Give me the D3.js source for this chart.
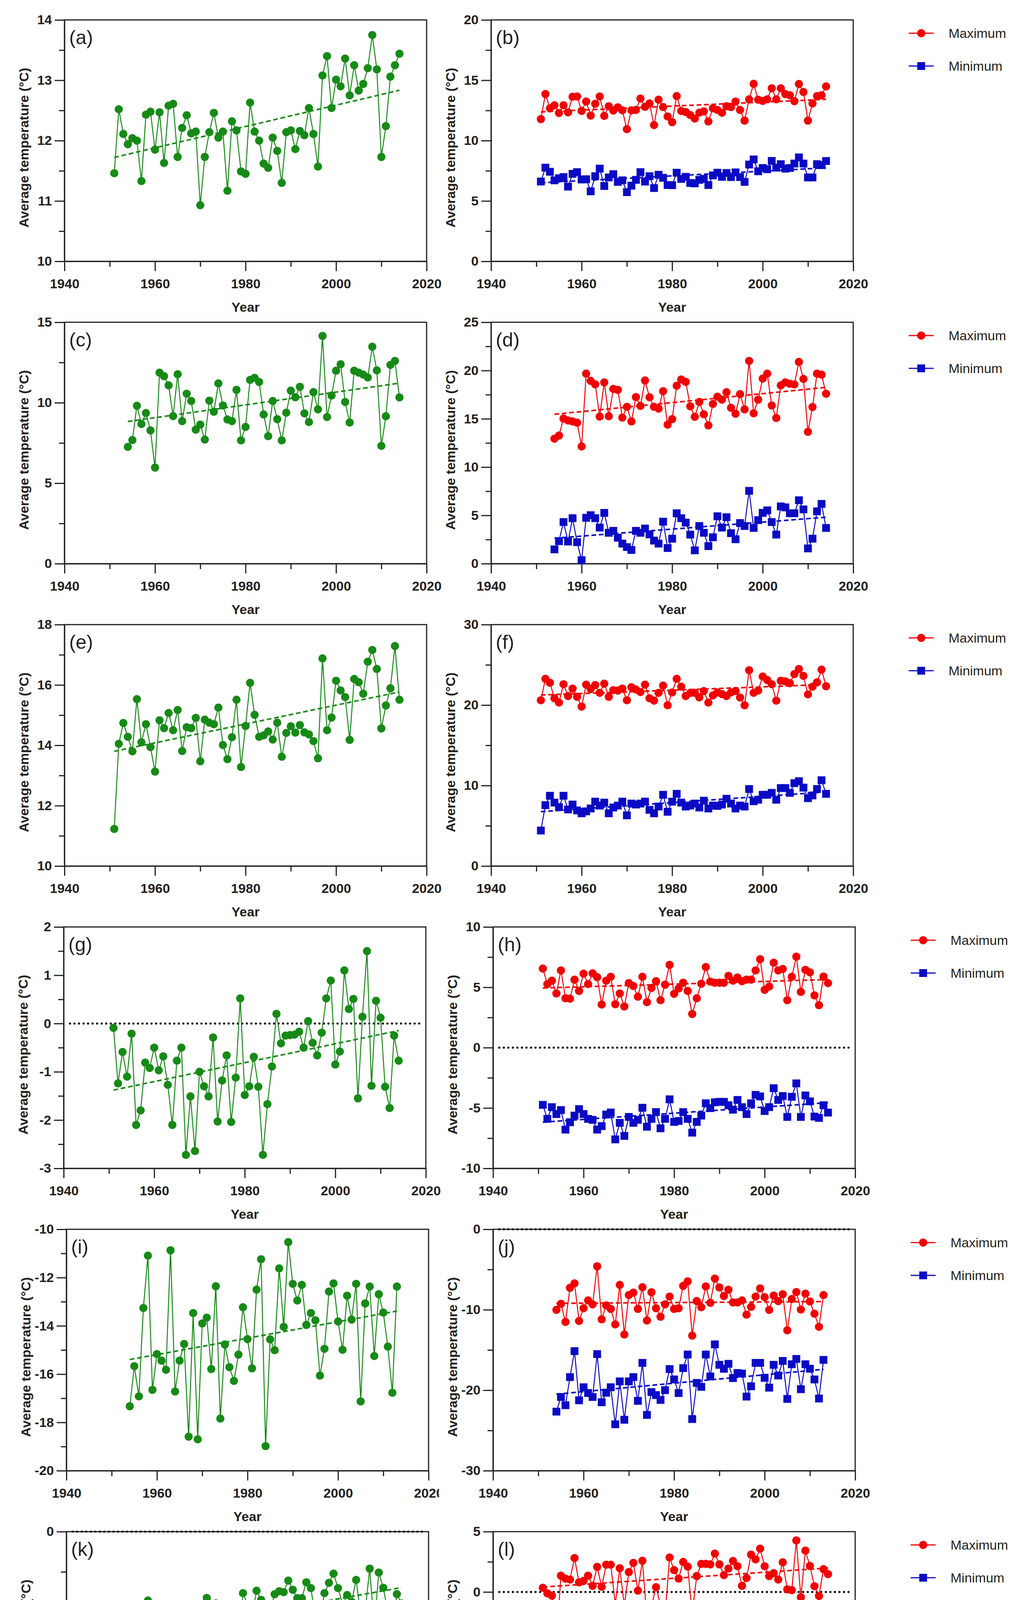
<!DOCTYPE html>
<html>
<head>
<meta charset="utf-8">
<script src="https://cdn.jsdelivr.net/npm/d3@7"></script>
<style>
    body { margin: 0; background: #fff; }
    svg { display: block; font-family: "Liberation Sans", Arial, sans-serif; }
    .axis path, .axis line { stroke: #231f20; stroke-width: 3; }
    .axis .tick text { font-family: "Liberation Sans", Arial, sans-serif; font-size: 34px; font-weight: bold; fill: #231f20; }
    .frame { fill: none; stroke: #231f20; stroke-width: 3; }
    .axis-title { font-size: 34px; font-weight: bold; fill: #231f20; }
    .panel-label { font-size: 50px; fill: #231f20; }
    .legend text { font-size: 34px; fill: #231f20; }
</style>
</head>
<body>
<svg id="chart" width="2616" height="4704"></svg>
<script>
// categories
const years51to14 = d3.range(1951, 2015);
const years54to14 = d3.range(1954, 2015);
const years54to13 = d3.range(1954, 2014);
const xTicks = [1940, 1960, 1980, 2000, 2020];
const xMinorTicks = [1950, 1970, 1990, 2010];
const legendLabels = ['Maximum', 'Minimum'];

// y tick labels per panel
const yTicksA = [10, 11, 12, 13, 14];
const yTicksB = [0, 5, 10, 15, 20];
const yTicksC = [0, 5, 10, 15];
const yTicksD = [0, 5, 10, 15, 20, 25];
const yTicksE = [10, 12, 14, 16, 18];
const yTicksF = [0, 10, 20, 30];
const yTicksG = [-3, -2, -1, 0, 1, 2];
const yTicksH = [-10, -5, 0, 5, 10];
const yTicksI = [-20, -18, -16, -14, -12, -10];
const yTicksJ = [-30, -20, -10, 0];
const yTicksK = [-15, -10, -5, 0];
const yTicksL = [-15, -10, -5, 0, 5];

// series values
const aMean = [
    11.46, 12.52, 12.11, 11.94, 12.04, 12.00, 11.33, 12.43, 12.48, 11.85,
    12.47, 11.63, 12.58, 12.61, 11.73, 12.21, 12.42, 12.12, 12.15, 10.93,
    11.73, 12.14, 12.46, 12.05, 12.15, 11.17, 12.32, 12.17, 11.49, 11.45,
    12.63, 12.15, 12.00, 11.62, 11.55, 12.05, 11.83, 11.30, 12.14, 12.17,
    11.86, 12.16, 12.09, 12.54, 12.11, 11.57, 13.08, 13.40, 12.54, 13.01,
    12.90, 13.36, 12.75, 13.25, 12.83, 12.94, 13.20, 13.75, 13.18, 11.73,
    12.24, 13.06, 13.25, 13.44];
const bMax = [
    11.78, 13.86, 12.68, 12.93, 12.29, 12.93, 12.34, 13.64, 13.66, 12.46,
    13.24, 12.08, 13.05, 13.66, 12.05, 12.85, 12.49, 12.76, 12.51, 10.95,
    12.51, 12.54, 13.49, 12.80, 13.08, 11.29, 13.39, 12.78, 12.00, 11.53,
    13.69, 12.46, 12.37, 12.12, 11.83, 12.32, 12.42, 11.59, 12.68, 12.54,
    12.31, 12.85, 12.78, 13.24, 12.54, 11.66, 13.42, 14.71, 13.39, 13.29,
    13.42, 14.34, 13.42, 14.34, 13.86, 13.76, 13.27, 14.69, 14.03, 11.66,
    13.08, 13.69, 13.76, 14.49];
const bMin = [
    6.61, 7.76, 7.42, 6.71, 6.88, 6.98, 6.19, 7.25, 7.39, 6.78,
    6.80, 5.80, 7.05, 7.68, 6.24, 6.95, 7.22, 6.58, 6.71, 5.73,
    6.27, 6.75, 7.39, 6.61, 7.05, 6.07, 7.17, 6.92, 6.32, 6.31,
    7.34, 6.83, 7.00, 6.49, 6.46, 6.75, 6.83, 6.32, 7.12, 7.34,
    7.00, 7.32, 6.98, 7.37, 6.98, 6.58, 8.02, 8.44, 7.46, 7.73,
    7.63, 8.32, 7.76, 8.05, 7.68, 7.73, 8.10, 8.61, 8.10, 6.95,
    6.95, 8.05, 7.97, 8.31];
const cMean = [
    7.26, 7.68, 9.81, 8.68, 9.36, 8.28, 5.97,
    11.87, 11.65, 11.08, 9.17, 11.77, 8.86, 10.56, 10.11, 8.33, 8.64,
    7.71, 10.13, 9.44, 11.20, 9.83, 8.96, 8.86, 10.80, 7.66, 8.50,
    11.42, 11.55, 11.29, 9.27, 7.92, 10.11, 8.98, 7.66, 9.38, 10.75,
    10.34, 10.99, 9.34, 8.80, 10.66, 9.59, 14.15, 9.11, 10.45, 11.99,
    12.39, 10.05, 8.77, 11.99, 11.87, 11.75, 11.57, 13.48, 12.01, 7.32,
    9.16, 12.35, 12.60, 10.33];
const dMax = [
    12.95, 13.27, 15.03, 14.83, 14.73, 14.60, 12.14,
    19.68, 18.93, 18.57, 15.23, 18.77, 15.27, 18.10, 18.00, 15.13, 16.24,
    14.73, 17.25, 16.34, 18.97, 17.23, 16.24, 16.06, 17.86, 14.40, 14.97,
    18.43, 19.07, 18.83, 16.30, 15.21, 16.75, 15.47, 14.32, 16.55, 17.29,
    16.99, 17.76, 16.14, 15.53, 17.56, 15.98, 21.00, 15.57, 16.99, 19.17,
    19.68, 16.38, 15.09, 18.47, 18.77, 18.63, 18.57, 20.89, 19.13, 13.65,
    16.22, 19.68, 19.58, 17.60];
const dMin = [
    1.48, 2.33, 4.31, 2.29, 4.71, 2.23, 0.36,
    4.75, 5.02, 4.71, 3.74, 5.26, 3.20, 3.40, 2.69, 2.08, 1.72,
    1.42, 3.40, 3.20, 3.64, 3.03, 2.39, 2.08, 4.35, 1.62, 2.59,
    5.22, 4.71, 4.25, 3.01, 1.38, 3.90, 3.20, 1.82, 2.73, 4.91,
    3.74, 4.81, 3.16, 2.53, 4.21, 3.90, 7.54, 3.70, 4.51, 5.26,
    5.52, 4.31, 3.01, 5.93, 5.83, 5.22, 5.22, 6.57, 5.62, 1.58,
    2.59, 5.42, 6.19, 3.70];
const eMean = [
    11.23, 14.05, 14.74, 14.28, 13.80, 15.53, 14.10, 14.70, 13.94, 13.13,
    14.83, 14.57, 15.07, 14.50, 15.17, 13.81, 14.60, 14.57, 14.91, 13.47,
    14.85, 14.75, 14.70, 15.25, 14.01, 13.54, 14.27, 15.51, 13.28, 14.64,
    16.07, 15.01, 14.28, 14.33, 14.46, 14.19, 14.75, 13.62, 14.41, 14.63,
    14.42, 14.67, 14.43, 14.36, 14.14, 13.57, 16.88, 14.50, 14.92, 16.14,
    15.82, 15.60, 14.18, 16.20, 16.09, 15.71, 16.77, 17.16, 16.53, 14.56,
    15.32, 15.89, 17.29, 15.51];
const fMax = [
    20.60, 23.26, 22.78, 20.84, 20.31, 22.59, 21.13, 22.05, 21.03, 19.82,
    22.54, 22.00, 22.49, 21.52, 22.66, 21.03, 21.86, 21.81, 22.05, 20.60,
    22.22, 21.93, 21.62, 22.54, 20.84, 20.55, 21.52, 22.42, 19.97, 21.57,
    23.26, 22.29, 21.13, 21.50, 21.52, 20.96, 21.74, 20.31, 21.20, 21.57,
    21.37, 21.13, 21.57, 21.76, 20.94, 19.97, 24.33, 21.52, 21.81, 23.55,
    23.12, 22.59, 20.55, 23.02, 22.95, 22.73, 23.85, 24.48, 23.63, 21.33,
    22.29, 22.83, 24.40, 22.34];
const fMin = [
    4.41, 7.56, 8.73, 7.88, 7.32, 8.73, 7.03, 7.64, 6.91, 6.55,
    6.79, 7.15, 8.00, 7.51, 7.88, 6.55, 7.27, 7.51, 8.00, 6.30,
    7.76, 7.64, 7.76, 8.00, 6.98, 6.55, 7.39, 8.85, 6.74, 8.00,
    8.97, 7.88, 7.39, 7.51, 7.76, 7.27, 8.12, 7.15, 7.51, 7.47,
    7.64, 8.36, 7.76, 7.15, 7.51, 7.39, 9.57, 8.05, 8.24, 8.85,
    8.85, 9.09, 8.24, 9.69, 9.69, 9.09, 10.30, 10.54, 9.74, 8.43,
    8.77, 9.57, 10.66, 8.97];
const gMean = [
    -0.09, -1.24, -0.59, -1.10, -0.21, -2.10, -1.80, -0.81, -0.92, -0.50,
    -0.97, -0.68, -1.27, -2.10, -0.77, -0.50, -2.72, -1.51, -2.64, -1.00,
    -1.30, -1.51, -0.29, -2.03, -1.18, -0.66, -2.04, -1.12, 0.52, -1.48,
    -1.30, -0.69, -1.31, -2.72, -1.67, -0.89, 0.20, -0.41, -0.25, -0.24,
    -0.23, -0.17, -0.50, 0.05, -0.40, -0.66, -0.19, 0.52, 0.89, -0.85,
    -0.58, 1.10, 0.30, 0.51, -1.55, 0.14, 1.50, -1.29, 0.47, 0.12,
    -1.31, -1.75, -0.25, -0.77];
const hMax = [
    6.55, 5.27, 5.55, 4.49, 6.40, 4.09, 4.06, 5.63, 4.70, 6.13,
    5.27, 6.16, 5.84, 3.57, 5.55, 5.87, 3.60, 4.49, 3.41, 5.35,
    5.11, 4.22, 5.87, 3.77, 4.95, 5.51, 3.93, 5.22, 6.86, 4.46,
    4.90, 5.38, 4.70, 2.79, 4.09, 5.30, 6.68, 5.47, 5.38, 5.38,
    5.38, 5.95, 5.55, 5.81, 5.51, 5.64, 5.64, 6.40, 7.33, 4.79,
    5.06, 7.04, 6.40, 6.52, 3.93, 5.87, 7.54, 4.62, 6.45, 6.24,
    4.33, 3.52, 5.89, 5.35];
const hMin = [
    -4.74, -5.90, -4.93, -5.50, -5.17, -6.79, -6.18, -5.63, -5.09, -5.50,
    -5.90, -5.98, -6.79, -6.50, -5.54, -5.37, -7.60, -6.23, -7.31, -5.74,
    -6.23, -5.98, -4.98, -6.55, -5.90, -5.34, -6.68, -5.90, -4.28, -6.15,
    -6.07, -5.34, -5.90, -7.04, -6.15, -5.63, -4.61, -5.01, -4.53, -4.49,
    -4.49, -4.77, -5.14, -4.33, -4.93, -5.50, -4.61, -3.91, -4.04, -5.25,
    -4.93, -3.36, -4.33, -4.01, -5.74, -4.07, -2.96, -5.74, -3.96, -4.45,
    -5.71, -5.82, -4.77, -5.38];
const iMean = [
    -17.33, -15.67, -16.92, -13.26, -11.09, -16.65, -15.17,
    -15.44, -15.82, -10.87, -16.72, -15.44, -14.75, -18.59, -13.47, -18.70, -13.90,
    -13.66, -15.79, -12.36, -17.84, -14.77, -15.71, -16.28, -15.19, -13.23, -14.55,
    -15.76, -12.50, -11.24, -18.98, -14.56, -15.01, -11.62, -14.04, -10.53, -12.26,
    -12.95, -12.30, -13.96, -13.47, -13.77, -16.06, -14.95, -12.58, -12.24, -13.82,
    -14.99, -12.75, -13.74, -12.26, -17.13, -13.07, -12.37, -15.25, -12.69, -13.45,
    -14.86, -16.77, -12.37];
const jMax = [
    -10.01, -9.26, -11.51, -7.27, -6.72, -11.39, -9.81,
    -8.84, -9.33, -4.60, -11.19, -9.45, -9.89, -11.82, -6.91, -13.08, -8.17,
    -7.87, -9.89, -7.20, -11.34, -7.83, -9.81, -10.86, -9.33, -8.36, -9.89,
    -9.81, -7.03, -6.47, -13.21, -8.92, -9.69, -7.10, -9.14, -6.13, -7.22,
    -8.29, -7.51, -9.09, -9.09, -8.84, -10.61, -9.64, -8.36, -7.34, -8.43,
    -10.01, -8.24, -8.92, -8.07, -12.55, -8.67, -7.80, -9.98, -8.00, -8.97,
    -10.49, -12.12, -8.17];
const jMin = [
    -22.66, -20.84, -21.86, -18.37, -15.14, -21.25, -19.63,
    -20.35, -20.84, -15.51, -21.49, -20.31, -19.63, -24.23, -18.90, -23.67, -18.90,
    -18.37, -21.32, -16.60, -23.07, -20.23, -20.60, -21.20, -19.99, -17.37, -18.66,
    -20.35, -17.25, -15.56, -23.58, -19.09, -19.58, -15.56, -18.29, -14.30, -16.84,
    -17.33, -16.72, -18.49, -17.86, -17.93, -20.79, -19.51, -16.60, -16.60, -18.46,
    -19.68, -16.84, -18.17, -16.36, -21.08, -16.77, -16.11, -19.87, -16.77, -17.33,
    -18.66, -21.03, -16.23];
const kMean = [
    -7.58, -7.84, -7.34, -9.69, -6.47, -5.90, -5.70, -4.28, -5.47, -6.26,
    -5.80, -6.22, -4.83, -5.80, -4.74, -4.70, -7.62, -4.95, -6.99, -4.97,
    -4.12, -5.65, -4.46, -8.31, -7.65, -5.96, -6.75, -7.77, -3.82, -4.52,
    -5.28, -3.67, -4.24, -7.23, -4.89, -3.89, -3.70, -3.76, -3.04, -3.61,
    -4.13, -4.13, -3.15, -3.51, -5.37, -5.34, -3.82, -3.18, -2.61, -3.51,
    -4.49, -3.94, -4.36, -3.00, -5.13, -4.89, -2.30, -5.94, -2.54, -3.49,
    -5.01, -5.96, -3.88, -4.46];
const lMax = [
    0.35, -0.11, -0.30, -4.03, 1.35, 1.11, 1.03, 2.81, 0.80, 0.92,
    1.35, 0.51, 2.08, 0.43, 2.26, 2.26, -0.98, 1.97, -1.11, 1.65,
    2.41, 0.11, 2.59, -2.24, -1.19, 0.40, -1.08, -1.95, 2.86, 1.81,
    1.11, 2.49, 2.10, -1.79, 1.32, 2.33, 2.33, 2.29, 3.18, 2.29,
    1.40, 1.94, 2.57, 2.13, 0.51, 1.16, 3.10, 2.70, 3.59, 2.13,
    1.32, 1.56, 1.03, 2.46, 0.22, 0.15, 4.27, -0.43, 3.43, 2.16,
    0.48, -0.33, 1.89, 1.48];
const lMin = [
    -12.78, -12.94, -12.58, -14.08, -11.94, -11.13, -10.59, -9.34, -9.99, -11.56,
    -11.81, -11.64, -10.19, -10.67, -10.10, -10.27, -13.07, -10.88, -11.81, -10.27,
    -9.29, -10.43, -10.10, -13.27, -12.78, -10.92, -11.32, -12.29, -9.02, -9.62,
    -10.43, -8.84, -9.38, -11.94, -10.02, -9.13, -8.61, -8.64, -8.27, -8.40,
    -8.60, -9.05, -7.84, -8.21, -10.27, -10.67, -9.62, -8.11, -7.64, -8.21,
    -9.46, -8.44, -8.60, -7.48, -9.34, -8.81, -7.59, -10.43, -7.35, -8.05,
    -9.62, -10.43, -8.48, -9.34];

// styling / layout
const GREEN = '#168a16', RED = '#f20000', BLUE = '#0a0ac4', INK = '#231f20';
const plotW = 927, plotH = 618, rowTop = 51, rowStep = 774;
const colX = [165, 1257];
const rowShift = [[0, 0, 0, -2, 5, 5], [0, 0, 0, 5, 5, 5]];

function mean(years, values, color) { return {years: years, values: values, color: color, shape: 'circle'}; }
function maxS(years, values) { return {years: years, values: values, color: RED, shape: 'circle'}; }
function minS(years, values) { return {years: years, values: values, color: BLUE, shape: 'square'}; }

const panels = [
    {label: '(a)', row: 0, col: 0, ticks: yTicksA, series: [mean(years51to14, aMean, GREEN)]},
    {label: '(b)', row: 0, col: 1, ticks: yTicksB, series: [maxS(years51to14, bMax), minS(years51to14, bMin)]},
    {label: '(c)', row: 1, col: 0, ticks: yTicksC, series: [mean(years54to14, cMean, GREEN)]},
    {label: '(d)', row: 1, col: 1, ticks: yTicksD, series: [maxS(years54to14, dMax), minS(years54to14, dMin)]},
    {label: '(e)', row: 2, col: 0, ticks: yTicksE, series: [mean(years51to14, eMean, GREEN)]},
    {label: '(f)', row: 2, col: 1, ticks: yTicksF, series: [maxS(years51to14, fMax), minS(years51to14, fMin)]},
    {label: '(g)', row: 3, col: 0, ticks: yTicksG, zero: true, series: [mean(years51to14, gMean, GREEN)]},
    {label: '(h)', row: 3, col: 1, ticks: yTicksH, zero: true, series: [maxS(years51to14, hMax), minS(years51to14, hMin)]},
    {label: '(i)', row: 4, col: 0, ticks: yTicksI, clip: true, series: [mean(years54to13, iMean, GREEN)]},
    {label: '(j)', row: 4, col: 1, ticks: yTicksJ, zero: true, series: [maxS(years54to13, jMax), minS(years54to13, jMin)]},
    {label: '(k)', row: 5, col: 0, ticks: yTicksK, zero: true, clip: true, series: [mean(years51to14, kMean, GREEN)]},
    {label: '(l)', row: 5, col: 1, ticks: yTicksL, zero: true, series: [maxS(years51to14, lMax), minS(years51to14, lMin)]}
];

const svg = d3.select('#chart');

// the original figure cuts off the last x label in the lower left panels
svg.append('defs').append('clipPath').attr('id', 'clipLeft')
    .append('rect').attr('x', 0).attr('y', 0).attr('width', 1124).attr('height', 4704);

// least squares trend
function fitLine(xs, ys) {
    var mx = d3.mean(xs), my = d3.mean(ys), sxy = 0, sxx = 0;
    xs.forEach(function (v, i) {
        sxy += (v - mx) * (ys[i] - my);
        sxx += (v - mx) * (v - mx);
    });
    var b = sxy / sxx;
    return function (v) { return my + b * (v - mx); };
}

function midpoints(ticks) {
    return ticks.slice(1).map(function (t, i) { return (t + ticks[i]) / 2; });
}

function drawMarker(g, shape, cx, cy, color) {
    if (shape === 'square') {
        g.append('rect')
            .attr('x', cx - 10).attr('y', cy - 10)
            .attr('width', 20).attr('height', 20)
            .attr('fill', color);
    } else {
        g.append('circle')
            .attr('cx', cx).attr('cy', cy).attr('r', 10.5)
            .attr('fill', color);
    }
}

function drawPanel(p) {
    var left = colX[p.col] + rowShift[p.col][p.row];
    var top = rowTop + p.row * rowStep;
    var bottom = top + plotH;

    var x = d3.scaleLinear().domain([1940, 2020]).range([left, left + plotW]);
    var y = d3.scaleLinear().domain(d3.extent(p.ticks)).range([bottom, top]);

    var g = svg.append('g').classed('panel', true);
    if (p.clip) g.attr('clip-path', 'url(#clipLeft)');

    // axes, major + minor ticks
    g.append('g').classed('axis', true)
        .attr('transform', 'translate(' + left + ',0)')
        .call(d3.axisLeft(y).tickValues(midpoints(p.ticks)).tickSize(14).tickSizeOuter(0).tickFormat(''));
    g.append('g').classed('axis', true)
        .attr('transform', 'translate(' + left + ',0)')
        .call(d3.axisLeft(y).tickValues(p.ticks).tickSize(25).tickSizeOuter(0).tickPadding(7)
            .tickFormat(function (d) { return String(d); }));

    g.append('g').classed('axis', true)
        .attr('transform', 'translate(0,' + bottom + ')')
        .call(d3.axisBottom(x).tickValues(xMinorTicks).tickSize(14).tickSizeOuter(0).tickFormat(''));
    g.append('g').classed('axis', true)
        .attr('transform', 'translate(0,' + bottom + ')')
        .call(d3.axisBottom(x).tickValues(xTicks).tickSize(25).tickSizeOuter(0).tickPadding(20)
            .tickFormat(function (d) { return String(d); }));

    g.append('rect').classed('frame', true)
        .attr('x', left).attr('y', top)
        .attr('width', plotW).attr('height', plotH);

    if (p.zero) {
        g.append('line')
            .attr('x1', left + 16).attr('x2', left + plotW - 14)
            .attr('y1', y(0)).attr('y2', y(0))
            .attr('stroke', '#000').attr('stroke-width', 5.5)
            .attr('stroke-linecap', 'round')
            .attr('stroke-dasharray', '0.01 11.6');
    }

    // titles
    g.append('text').classed('axis-title', true)
        .attr('text-anchor', 'middle')
        .attr('transform', 'translate(' + (left - 92) + ',' + (top + plotH / 2 + 18) + ') rotate(-90)')
        .text('Average temperature (°C)');
    g.append('text').classed('axis-title', true)
        .attr('text-anchor', 'middle')
        .attr('x', left + plotW / 2).attr('y', bottom + 129)
        .text('Year');
    g.append('text').classed('panel-label', true)
        .attr('x', left + 12).attr('y', top + 62)
        .text(p.label);

    var line = d3.line()
        .x(function (d) { return x(d[0]); })
        .y(function (d) { return y(d[1]); });

    p.series.forEach(function (s) {
        var pts = s.years.map(function (yr, i) { return [yr, s.values[i]]; });
        var trend = fitLine(s.years, s.values);
        var ends = d3.extent(s.years);

        g.append('path')
            .attr('d', line(ends.map(function (yr) { return [yr, trend(yr)]; })))
            .attr('fill', 'none').attr('stroke', s.color)
            .attr('stroke-width', 4).attr('stroke-dasharray', '12 7');

        g.append('path')
            .attr('d', line(pts))
            .attr('fill', 'none').attr('stroke', s.color)
            .attr('stroke-width', 2.5);

        var marks = g.append('g');
        pts.forEach(function (d) { drawMarker(marks, s.shape, x(d[0]), y(d[1]), s.color); });
    });

    // legend beside the max/min panels
    if (p.series.length > 1) {
        var lg = svg.append('g').classed('legend', true);
        p.series.forEach(function (s, i) {
            var ly = top + 34 + i * 84;
            var lx = 2326 + rowShift[1][p.row];
            lg.append('line')
                .attr('x1', lx).attr('x2', lx + 64)
                .attr('y1', ly).attr('y2', ly)
                .attr('stroke', s.color).attr('stroke-width', 3);
            drawMarker(lg, s.shape, lx + 32, ly, s.color);
            lg.append('text')
                .attr('x', lx + 102).attr('y', ly + 12)
                .text(legendLabels[i]);
        });
    }
}

panels.forEach(drawPanel);
</script>
</body>
</html>
